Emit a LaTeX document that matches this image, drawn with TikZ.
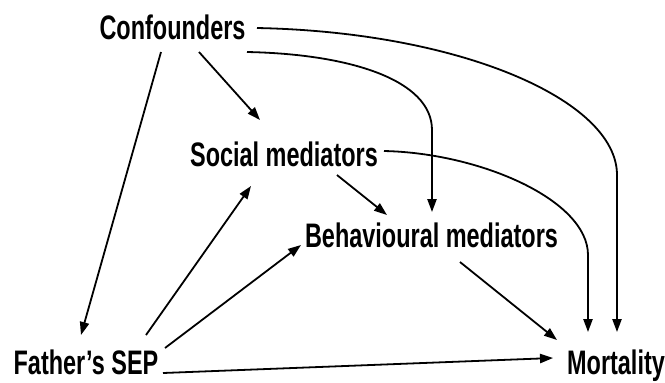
\documentclass[tikz,border=0pt]{standalone}
\usepackage{fontspec}
\newfontfamily\narrowfont{Liberation Sans}[FakeStretch=0.69]
\usetikzlibrary{arrows.meta,calc}
\begin{document}
\begin{tikzpicture}[x=0.5pt,y=-0.5pt,line width=0.9pt,line join=round,>={Triangle[length=6.5pt,width=4.6pt]},
    lab/.style={inner sep=0pt,anchor=base,font=\narrowfont\bfseries\fontsize{17pt}{20pt}\selectfont}]
    %% khung
    \useasboundingbox (0,0) rectangle (665,382);
    %% cac nut
    \node[lab] (conf) at (172.5,39) {Confounders};
    \node[lab] (soc) at (284,166) {Social mediators};
    \node[lab] (beh) at (431.5,247) {Behavioural mediators};
    \node[lab] (fat) at (86,374) {Father’s SEP};
    \node[lab] (mort) at (616,374) {Mortality};
    %% mui ten thang
    \draw[->] ($(conf.base)+(-11.5,13)$)--($(fat.base)+(-5,-39)$);
    \draw[->] ($(conf.base)+(26.5,13)$)--($(soc.base)+(-24,-46)$);
    \draw[->] ($(soc.base)+(53,9)$)--($(beh.base)+(-44.5,-32)$);
    \draw[->] ($(fat.base)+(60,-39)$)--($(soc.base)+(-33,20)$);
    \draw[->] ($(fat.base)+(79,-26)$)--($(beh.base)+(-130.5,-2)$);
    \draw[->] ($(beh.base)+(28.5,15)$)--($(mort.base)+(-59,-34)$);
    \draw[->] ($(fat.base)+(77,-1)$)--($(mort.base)+(-63,-16)$);
    %% mui ten cong
    \draw[->] ($(conf.base)+(74.5,13)$) .. controls (350,54) and (432,80) .. (432,130)--($(beh.base)+(0.5,-35)$);
    \draw[->] ($(conf.base)+(84.5,-11)$) .. controls (460,32) and (617,100) .. (617,175)--($(mort.base)+(1,-42)$);
    \draw[->] ($(soc.base)+(100,-15)$) .. controls (480,153) and (588,200) .. (588,255)--($(mort.base)+(-28,-42)$);
\end{tikzpicture}
\end{document}
